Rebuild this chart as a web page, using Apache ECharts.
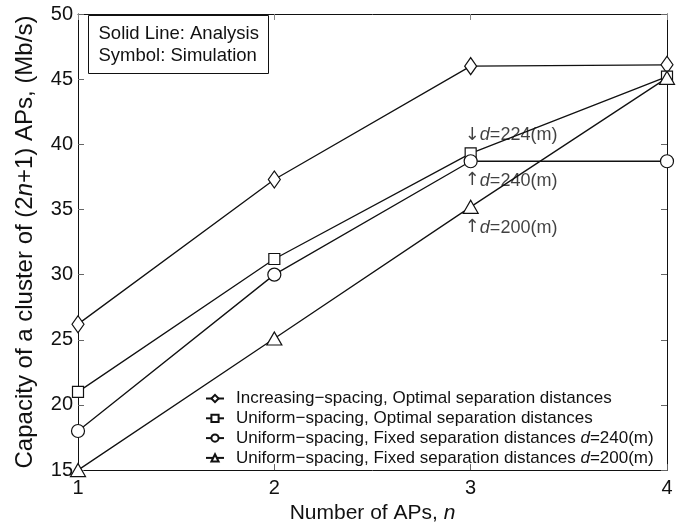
<!DOCTYPE html>
<html><head><meta charset="utf-8">
<script src="https://cdn.jsdelivr.net/npm/echarts@6/dist/echarts.min.js"></script>
<style>html,body{margin:0;padding:0;background:#fff}#c{width:680px;height:529px}</style>
</head><body><div id="c"></div>
<script>
var nValues = [1, 2, 3, 4];
var incOptimal = [26.2, 37.3, 46.0, 46.1];
var uniOptimal = [21.0, 31.2, 39.3, 45.2];
var uniFixed240 = [18.0, 30.0, 38.7, 38.7];
var uniFixed200 = [15.0, 25.1, 35.2, 45.1];
var seriesNames = [
  'Increasing\u2212spacing, Optimal separation distances',
  'Uniform\u2212spacing, Optimal separation distances',
  'Uniform\u2212spacing, Fixed separation distances d=240(m)',
  'Uniform\u2212spacing, Fixed separation distances d=200(m)'
];
var annotations = [
  [2.97, 40.7, '\u2193', '224'],
  [2.97, 37.2, '\u2191', '240'],
  [2.97, 33.6, '\u2191', '200']
];
var FONT = '"Liberation Sans", Arial, Helvetica, sans-serif';
var chart = echarts.init(document.getElementById('c'), null, {renderer: 'canvas'});
function pts(arr) { return nValues.map(function (n, i) { return [n, arr[i]]; }); }
function mk(name, arr, sym, size) {
  return {
    name: name, type: 'line', data: pts(arr), symbol: sym, symbolSize: size,
    showAllSymbol: true,
    lineStyle: {color: '#111', width: 1.3},
    itemStyle: {color: '#fff', borderColor: '#111', borderWidth: 1.2},
    emphasis: {disabled: true}, animation: false, z: 3
  };
}
var option = {
  animation: false,
  backgroundColor: '#fff',
  grid: {left: 78, right: 13, top: 14, bottom: 54, show: false},
  xAxis: [{
    type: 'value', min: 1, max: 4, interval: 1,
    name: 'Number of APs, {i|n}', nameLocation: 'middle', nameGap: 31,
    nameTextStyle: {fontFamily: FONT, fontSize: 21, color: '#111', rich: {i: {fontFamily: FONT, fontSize: 21, fontStyle: 'italic', color: '#111'}}},
    axisLine: {show: true, lineStyle: {color: '#111', width: 1}},
    axisTick: {show: true, inside: true, length: 6, lineStyle: {color: '#666'}},
    axisLabel: {fontFamily: FONT, fontSize: 20, color: '#111', margin: 8},
    splitLine: {show: false}
  }, {
    type: 'value', min: 1, max: 4, interval: 1, position: 'top',
    axisLine: {show: true, lineStyle: {color: '#111', width: 1}},
    axisTick: {show: true, inside: true, length: 6, lineStyle: {color: '#888'}},
    axisLabel: {show: false}, splitLine: {show: false}
  }],
  yAxis: [{
    type: 'value', min: 15, max: 50, interval: 5,
    name: 'Capacity of a cluster of (2{i|n}+1) APs, (Mb/s)', nameLocation: 'middle', nameGap: 41,
    nameTextStyle: {fontFamily: FONT, fontSize: 24, color: '#111', rich: {i: {fontFamily: FONT, fontSize: 24, fontStyle: 'italic', color: '#111'}}},
    axisLine: {show: true, lineStyle: {color: '#111', width: 1}},
    axisTick: {show: true, inside: true, length: 6, lineStyle: {color: '#666'}},
    axisLabel: {fontFamily: FONT, fontSize: 20, color: '#111', margin: 5},
    splitLine: {show: false}
  }, {
    type: 'value', min: 15, max: 50, interval: 5, position: 'right',
    axisLine: {show: true, lineStyle: {color: '#111', width: 1}},
    axisTick: {show: true, inside: true, length: 6, lineStyle: {color: '#666'}},
    axisLabel: {show: false}, splitLine: {show: false}
  }],
  legend: {
    orient: 'vertical', left: 200, top: 385,
    itemWidth: 18, itemHeight: 9, itemGap: 2.8,
    data: seriesNames,
    formatter: function (name) {
      var k = name.indexOf(' d=');
      if (k < 0) return '{n|' + name + '}';
      return '{n|' + name.slice(0, k + 1) + '}{i|d}{n|' + name.slice(k + 2) + '}';
    },
    textStyle: {fontFamily: FONT, fontSize: 17, color: '#111', lineHeight: 17, padding: [0, 0, 0, 7], rich: {
      n: {fontFamily: FONT, fontSize: 17, color: '#111', lineHeight: 17},
      i: {fontFamily: FONT, fontSize: 17, color: '#111', fontStyle: 'italic', lineHeight: 17}
    }}
  },
  graphic: [{
    type: 'group', left: 88, top: 15,
    children: [
      {type: 'rect', shape: {x: 0, y: 0, width: 180, height: 58}, style: {fill: '#fff', stroke: '#111', lineWidth: 1}},
      {type: 'text', x: 10, y: 7, style: {text: 'Solid Line: Analysis\nSymbol: Simulation', font: '18.5px ' + FONT, fill: '#111', lineHeight: 22}}
    ]
  }],
  series: [
    mk(seriesNames[0], incOptimal, 'diamond', [12, 17]),
    mk(seriesNames[1], uniOptimal, 'rect', 11),
    mk(seriesNames[2], uniFixed240, 'circle', 13),
    mk(seriesNames[3], uniFixed200, 'triangle', [15, 13]),
    {
      type: 'scatter', symbolSize: 0, silent: true, z: 5,
      data: annotations.map(function (a) { return {value: [a[0], a[1]], arrow: a[2], dv: a[3]}; }),
      label: {
        show: true, position: 'right', distance: 0,
        formatter: function (p) { return '{a|' + p.data.arrow + '}{i|d}{n|=' + p.data.dv + '(m)}'; },
        rich: {
          a: {fontFamily: '"DejaVu Sans", sans-serif', fontSize: 18, color: '#111'},
          n: {fontFamily: FONT, fontSize: 18, color: '#111'},
          i: {fontFamily: FONT, fontSize: 18, color: '#111', fontStyle: 'italic'}
        }
      }
    }
  ]
};
chart.setOption(option);
</script></body></html>
